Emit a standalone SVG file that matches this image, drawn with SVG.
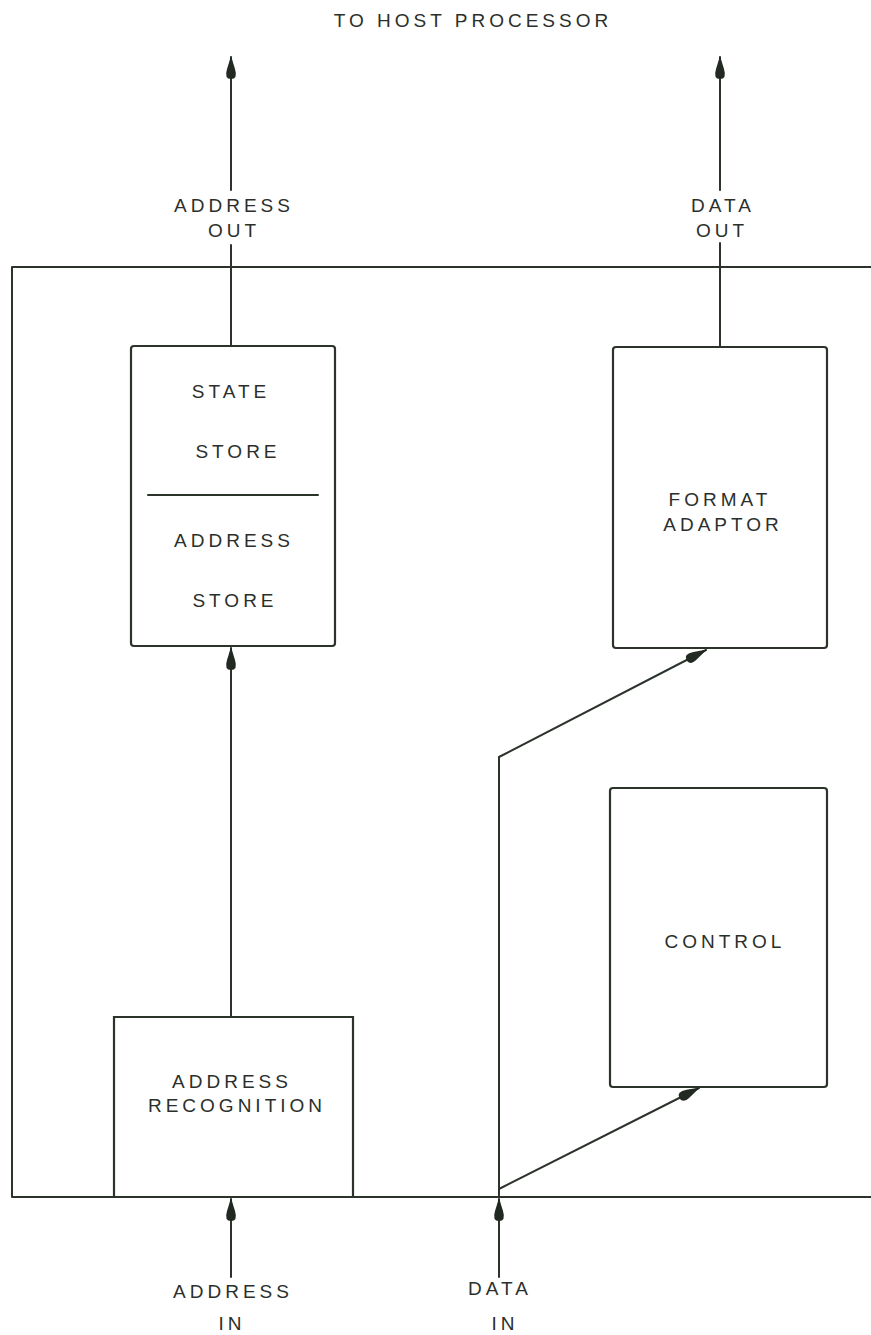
<svg xmlns="http://www.w3.org/2000/svg" width="871" height="1335" viewBox="0 0 871 1335">
<style>
  .ln{fill:none;stroke:#2b332b;stroke-width:2;stroke-linejoin:round;stroke-linecap:round}
  .box{fill:none;stroke:#2b332b;stroke-width:2.2}
  .t{font-family:"Liberation Sans",Arial,sans-serif;font-size:19px;letter-spacing:4px;fill:#2b2f2b;text-anchor:middle}
</style>
<defs>
  <marker id="arr" viewBox="-24 -8 26 16" refX="0" refY="0" markerWidth="26" markerHeight="16" markerUnits="userSpaceOnUse" orient="auto">
    <path d="M1,0 L-12,-4 Q-22,-7 -22,0 Q-22,7 -12,4 Z" fill="#222822"/>
  </marker>
</defs>
<rect width="871" height="1335" fill="#ffffff"/>
<text class="t" x="473" y="27">TO HOST PROCESSOR</text>
<g id="frame">
  <path class="ln" d="M871,267 H12 V1197 H871"/>
</g>
<g id="state-store">
  <rect class="box" x="131" y="346" width="204" height="300" rx="3"/>
  <line class="ln" x1="148" y1="495" x2="318" y2="495" stroke-width="2.5"/>
  <text class="t" x="231" y="398">STATE</text>
  <text class="t" x="238" y="458">STORE</text>
  <text class="t" x="234" y="547">ADDRESS</text>
  <text class="t" x="235" y="607">STORE</text>
</g>
<g id="format-adaptor">
  <rect class="box" x="613" y="347" width="214" height="301" rx="3"/>
  <text class="t" x="720" y="506">FORMAT</text>
  <text class="t" x="723" y="531">ADAPTOR</text>
</g>
<g id="control">
  <rect class="box" x="610" y="788" width="217" height="299" rx="3"/>
  <text class="t" x="725" y="948">CONTROL</text>
</g>
<g id="address-recognition">
  <path class="box" d="M114,1197 V1017 H353 V1197"/>
  <text class="t" x="232" y="1088">ADDRESS</text>
  <text class="t" x="237" y="1112">RECOGNITION</text>
</g>
<g id="labels">
  <text class="t" x="234" y="212">ADDRESS</text>
  <text class="t" x="234" y="237">OUT</text>
  <text class="t" x="723" y="212">DATA</text>
  <text class="t" x="722" y="237">OUT</text>
  <text class="t" x="233" y="1298">ADDRESS</text>
  <text class="t" x="232" y="1330">IN</text>
  <text class="t" x="500" y="1295">DATA</text>
  <text class="t" x="505" y="1330">IN</text>
</g>
<g id="connectors">
  <line class="ln" x1="231" y1="346" x2="231" y2="245"/>
  <line class="ln" x1="231" y1="190" x2="231" y2="57" marker-end="url(#arr)"/>
  <line class="ln" x1="720" y1="347" x2="720" y2="243"/>
  <line class="ln" x1="720" y1="190" x2="720" y2="57" marker-end="url(#arr)"/>
  <line class="ln" x1="231" y1="1017" x2="231" y2="648" marker-end="url(#arr)"/>
  <line class="ln" x1="231" y1="1277" x2="231" y2="1199" marker-end="url(#arr)"/>
  <line class="ln" x1="499" y1="1277" x2="499" y2="1199" marker-end="url(#arr)"/>
  <path class="ln" d="M499,1197 V757 L706,650" marker-end="url(#arr)"/>
  <path class="ln" d="M499,1189 L699,1088" marker-end="url(#arr)"/>
</g>
</svg>
